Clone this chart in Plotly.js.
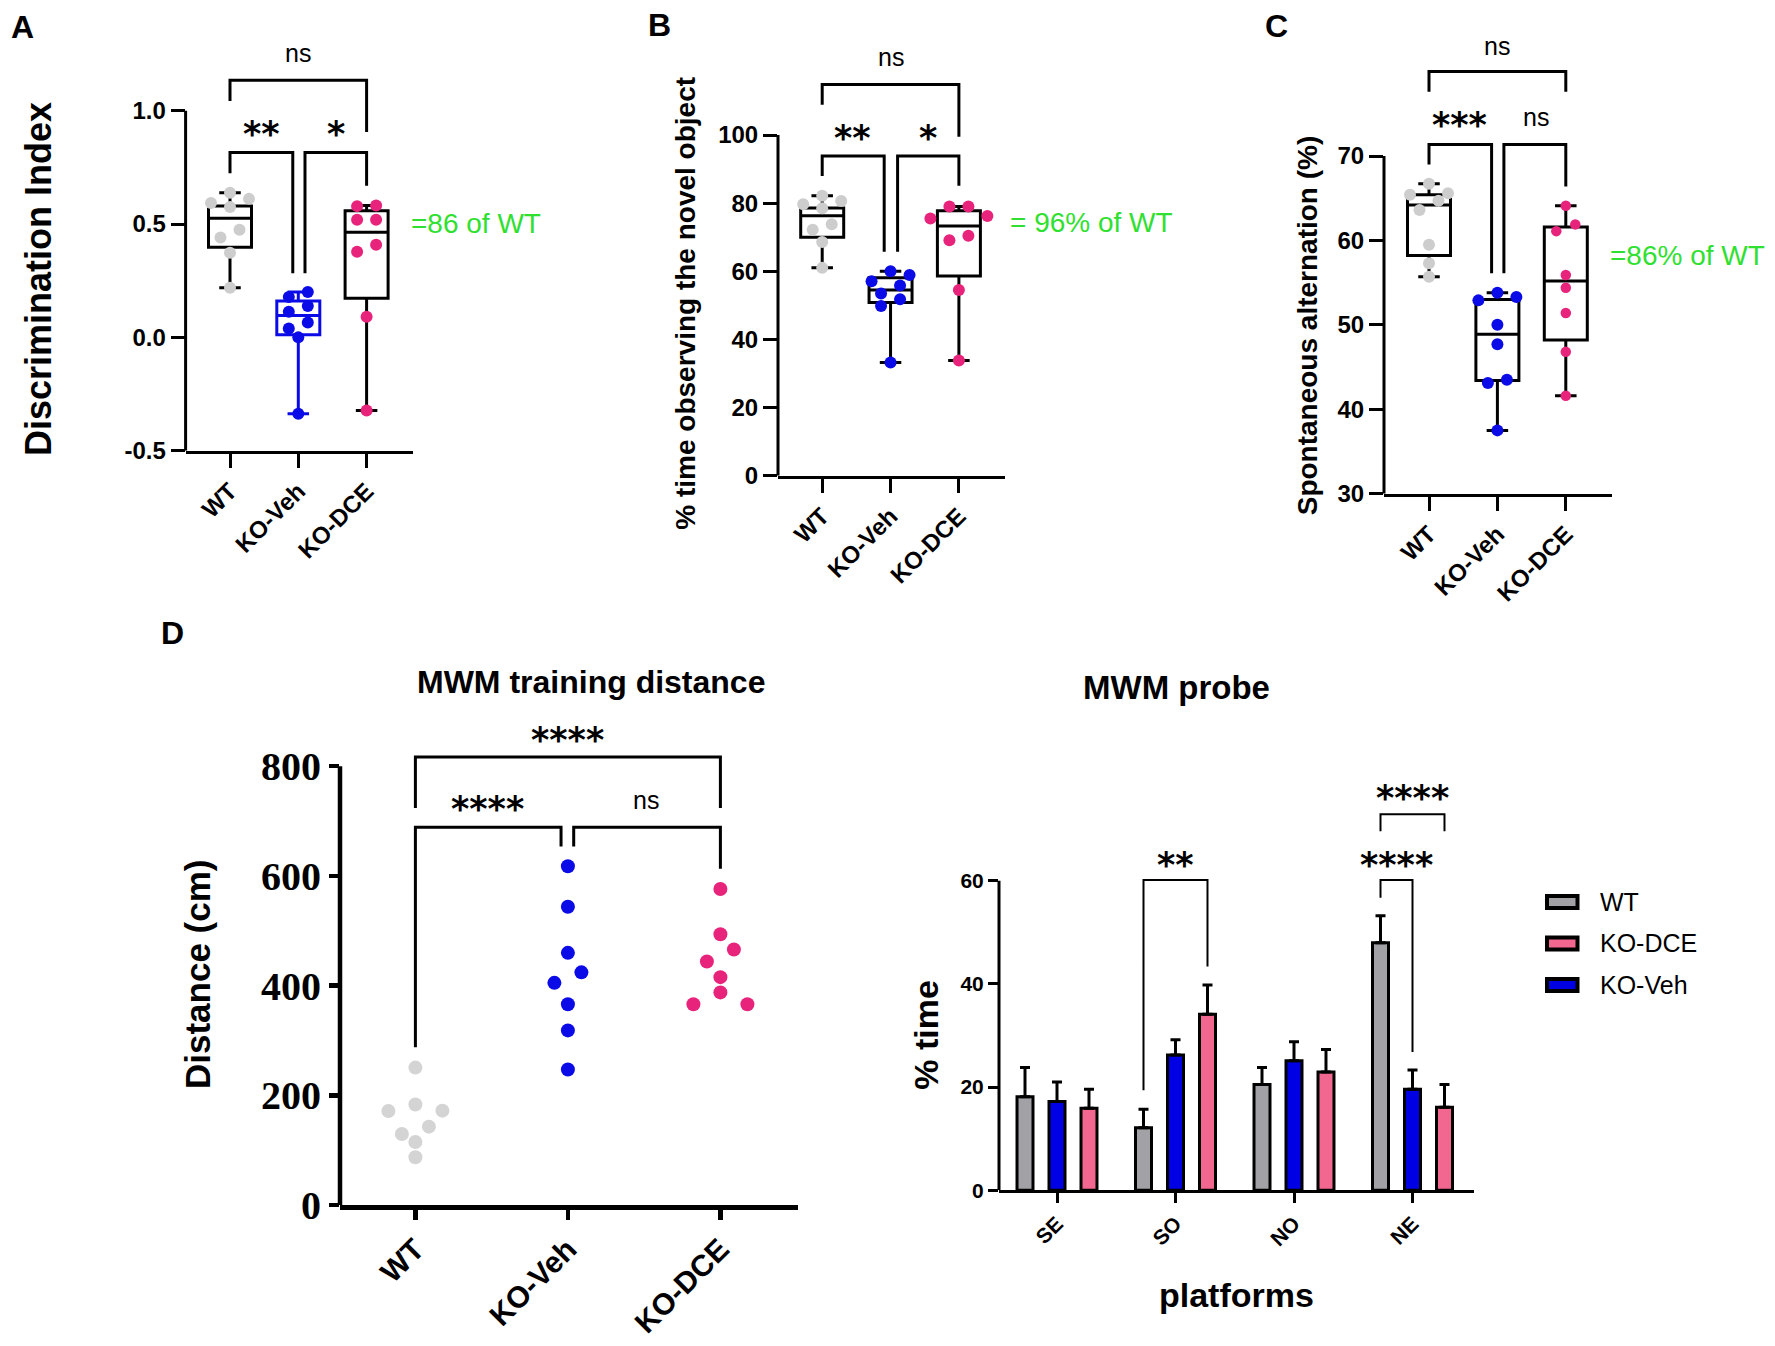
<!DOCTYPE html>
<html><head><meta charset="utf-8">
<script src="https://cdn.plot.ly/plotly-3.0.1.min.js"></script>
<style>html,body{margin:0;padding:0;background:#fff}</style>
</head><body>
<div id="chart" style="width:1775px;height:1346px"></div>
<script>
// ---------------- data ----------------
const groups = ['WT', 'KO-Veh', 'KO-DCE'];

// A: discrimination index
const discWT    = [0.638, 0.611, 0.593, 0.575, 0.475, 0.441, 0.373, 0.219];
const discKOVeh = [0.200, 0.178, 0.138, 0.113, 0.066, 0.039, 0.000, -0.337];
const discKODCE = [0.582, 0.579, 0.519, 0.519, 0.409, 0.378, 0.091, -0.323];
const discQ1  = [0.398, 0.011, 0.173];
const discMed = [0.526, 0.097, 0.464];
const discQ3  = [0.580, 0.160, 0.559];
const discTicks = [-0.5, 0, 0.5, 1.0];
const discTickText = ['-0.5', '0.0', '0.5', '1.0'];

// B: % time observing the novel object
const novelWT    = [82.2, 80.6, 79.7, 78.5, 73.8, 72.2, 68.6, 61.0];
const novelKOVeh = [60.0, 58.9, 57.1, 55.8, 53.5, 51.8, 49.8, 33.2];
const novelKODCE = [79.0, 79.0, 76.2, 75.5, 70.4, 69.1, 54.5, 33.8];
const novelQ1  = [70.0, 50.8, 58.6];
const novelMed = [76.3, 54.5, 73.3];
const novelQ3  = [78.6, 58.1, 77.8];
const novelTicks = [0, 20, 40, 60, 80, 100];

// C: spontaneous alternation (%)
const altWT    = [66.7, 65.6, 65.4, 64.7, 63.6, 59.5, 57.3, 55.7];
const altKOVeh = [53.8, 53.3, 52.9, 50.0, 47.7, 43.5, 43.1, 37.5];
const altKODCE = [64.1, 61.9, 61.1, 55.9, 54.4, 51.4, 46.8, 41.6];
const altQ1  = [58.2, 43.4, 48.2];
const altMed = [64.2, 48.9, 55.2];
const altQ3  = [65.4, 53.0, 61.6];
const altTicks = [30, 40, 50, 60, 70];

// D left: MWM training distance (cm)
const distWT    = [250.6, 183.4, 172.2, 171.6, 143.0, 129.7, 115.1, 87.2];
const distKOVeh = [617.7, 543.8, 459.8, 424.2, 405.1, 366.0, 318.4, 247.3];
const distKODCE = [576.2, 493.7, 465.8, 444.1, 415.5, 387.7, 366.0, 366.0];
const distTicks = [0, 200, 400, 600, 800];

// D right: MWM probe (% time)
const platforms = ['SE', 'SO', 'NO', 'NE'];
const probeWT       = [18.1, 12.1, 20.5, 48.0];
const probeWTErr    = [5.7, 3.6, 3.3, 5.2];
const probeKOVeh    = [17.2, 26.2, 25.1, 19.6];
const probeKOVehErr = [3.8, 3.0, 3.7, 3.7];
const probeKODCE    = [15.9, 34.1, 22.9, 16.1];
const probeKODCEErr = [3.7, 5.7, 4.4, 4.4];
const probeTicks = [0, 20, 40, 60];

// ---------------- styles ----------------
const W = 1775, H = 1346;
const cGray = '#cdcdcd', cBlue = '#0b0be8', cPink = '#e8237b', cGreen = '#30e030';
const barGray = '#a2a2a6', barBlue = '#0000e4', barPink = '#f2678f';
const SANS = 'Liberation Sans, Arial, sans-serif';
const SERIF = 'Liberation Serif, Times New Roman, serif';
const STAR = 'DejaVu Sans, sans-serif';

// panel geometry in pixels
const G = {
  A:  {id: '',  left: 185.6, right: 413,    c0: 230,   cs: 68.3,  v0: -0.5, p0: 450.7,  v1: 1.0, p1: 110.7, top: 28},
  B:  {id: '2', left: 778,   right: 1005,   c0: 822.2, cs: 68.35, v0: 0,    p0: 475.7,  v1: 100, p1: 135,   top: 28},
  C:  {id: '3', left: 1384,  right: 1612.3, c0: 1429,  cs: 68.4,  v0: 30,   p0: 493.7,  v1: 70,  p1: 156,   top: 28},
  DL: {id: '4', left: 340,   right: 798.3,  c0: 415.4, cs: 152.5, v0: 0,    p0: 1205.1, v1: 800, p1: 766.2, top: 700},
  DR: {id: '5', left: 999,   right: 1473.6, c0: 1057,  cs: 118.5, v0: 0,    p0: 1190.2, v1: 60,  p1: 880.8, top: 770}
};
Object.values(G).forEach(g => {
  g.ppu = (g.p0 - g.p1) / (g.v1 - g.v0);
  g.vtop = g.v1 + (g.p1 - g.top) / g.ppu;
  g.xr = [(g.left - g.c0) / g.cs, (g.right - g.c0) / g.cs];
  g.xd = [g.left / W, g.right / W];
  g.yd = [1 - g.p0 / H, 1 - g.top / H];
  g.xa = 'x' + g.id; g.ya = 'y' + g.id;
});

const traces = [], shapes = [], annotations = [], layout = {};

// beeswarm-like row layout (deterministic)
function swarm(vals, ppu, stepPx, rowPx, catStep) {
  const idx = vals.map((v, i) => i).sort((a, b) => vals[b] - vals[a]);
  const off = new Array(vals.length).fill(0);
  let i = 0;
  while (i < idx.length) {
    const row = [idx[i]]; let j = i + 1;
    while (j < idx.length && (vals[idx[i]] - vals[idx[j]]) * ppu < rowPx) { row.push(idx[j]); j++; }
    const k = row.length, seq = [];
    if (k % 2) { seq.push(0); for (let m = 1; seq.length < k; m++) { seq.push(m); if (seq.length < k) seq.push(-m); } }
    else { for (let m = 0; seq.length < k; m++) { seq.push(m + 0.5); seq.push(-(m + 0.5)); } }
    row.forEach((r, n) => off[r] = seq[n] * stepPx / catStep);
    i = j;
  }
  return off;
}

function axisPair(g, o) {
  layout['xaxis' + g.id] = {
    domain: g.xd, range: g.xr, anchor: g.ya, fixedrange: true,
    tickvals: o.xvals, ticktext: o.xtext, tickangle: -45,
    ticks: 'outside', ticklen: o.tl, tickwidth: o.tw, tickcolor: '#000',
    showline: true, linewidth: o.lw, linecolor: '#000',
    showgrid: false, zeroline: false, tickfont: o.xfont
  };
  layout['yaxis' + g.id] = {
    domain: g.yd, range: [g.v0, g.vtop], anchor: g.xa, fixedrange: true,
    tickvals: o.yvals, ticktext: o.ytext,
    ticks: 'outside', ticklen: o.tl, tickwidth: o.tw, tickcolor: '#000',
    showline: false, showgrid: false, zeroline: false, tickfont: o.yfont
  };
  shapes.push({type: 'line', xref: g.xa + ' domain', yref: g.ya, x0: 0, x1: 0,
    y0: g.v0, y1: g.v1, line: {color: '#000', width: o.lw}});
}

function boxPanel(g, series, q1, med, q3, boxColors, ptColors, msizes) {
  series.forEach((vals, i) => {
    traces.push({type: 'box', xaxis: g.xa, yaxis: g.ya, x: [i],
      q1: [q1[i]], median: [med[i]], q3: [q3[i]],
      lowerfence: [Math.min(...vals)], upperfence: [Math.max(...vals)],
      width: 43 / g.cs, whiskerwidth: 0.5, boxpoints: false,
      line: {color: boxColors[i], width: 3}, fillcolor: 'rgba(0,0,0,0)',
      hoverinfo: 'skip', showlegend: false});
    const off = swarm(vals, g.ppu, 19, 12, g.cs);
    traces.push({type: 'scatter', mode: 'markers', xaxis: g.xa, yaxis: g.ya,
      x: vals.map((v, k) => i + off[k]), y: vals, cliponaxis: false,
      marker: {size: msizes[i], color: ptColors[i]}, hoverinfo: 'skip', showlegend: false});
  });
}

function bracket(g, xa, xb, yTop, yA, yB, w) {
  shapes.push({type: 'path', xref: g.xa, yref: g.ya,
    path: `M${xa},${yA} L${xa},${yTop} L${xb},${yTop} L${xb},${yB}`,
    line: {color: '#000', width: w}});
}
function sig(g, text, x, y) {
  const star = text.indexOf('*') >= 0;
  annotations.push({xref: g.xa, yref: g.ya, x: x, y: y, text: text, showarrow: false,
    xanchor: 'center', yanchor: 'middle', yshift: star ? -4 : 2,
    font: star ? {family: STAR, size: 35, weight: 700, color: '#000'} : {family: SANS, size: 25, color: '#000'}});
}
function label(text, x, y, font, opts) {
  annotations.push(Object.assign({xref: 'paper', yref: 'paper', x: x / W, y: 1 - y / H, text: text,
    showarrow: false, xanchor: 'center', yanchor: 'middle', font: font}, opts || {}));
}

const tickBold24 = {family: SANS, size: 24, weight: 700, color: '#000'};
const catIdx = groups.map((c, i) => i);

// ---------- Panel A ----------
axisPair(G.A, {xvals: catIdx, xtext: groups, yvals: discTicks, ytext: discTickText,
  tl: 14, tw: 3, lw: 3, xfont: tickBold24, yfont: tickBold24});
boxPanel(G.A, [discWT, discKOVeh, discKODCE], discQ1, discMed, discQ3,
  ['#000', cBlue, '#000'], [cGray, cBlue, cPink], [12, 12, 12]);
bracket(G.A, 0, 2, 1.134, 1.043, 0.906, 3);
bracket(G.A, 0, 0.919, 0.816, 0.724, 0.283, 3);
bracket(G.A, 1.098, 2, 0.816, 0.283, 0.669, 3);
sig(G.A, 'ns', 1, 1.244); sig(G.A, '**', 0.46, 0.913); sig(G.A, '*', 1.55, 0.913);

// ---------- Panel B ----------
axisPair(G.B, {xvals: catIdx, xtext: groups, yvals: novelTicks, ytext: novelTicks.map(String),
  tl: 14, tw: 3, lw: 3, xfont: tickBold24, yfont: tickBold24});
boxPanel(G.B, [novelWT, novelKOVeh, novelKODCE], novelQ1, novelMed, novelQ3,
  ['#000', '#000', '#000'], [cGray, cBlue, cPink], [12, 12, 12]);
bracket(G.B, 0, 2, 114.8, 108.9, 99.5, 3);
bracket(G.B, 0, 0.907, 93.8, 88.0, 65.7, 3);
bracket(G.B, 1.103, 2, 93.8, 65.7, 85.1, 3);
sig(G.B, 'ns', 1, 122.3); sig(G.B, '**', 0.449, 100.3); sig(G.B, '*', 1.552, 100.3);

// ---------- Panel C ----------
axisPair(G.C, {xvals: catIdx, xtext: groups, yvals: altTicks, ytext: altTicks.map(String),
  tl: 14, tw: 3, lw: 3, xfont: tickBold24, yfont: tickBold24});
boxPanel(G.C, [altWT, altKOVeh, altKODCE], altQ1, altMed, altQ3,
  ['#000', '#000', '#000'], [cGray, cBlue, cPink], [12, 12, 10.5]);
bracket(G.C, 0, 2, 80.0, 77.6, 77.6, 3);
bracket(G.C, 0, 0.915, 71.35, 69.0, 56.1, 3);
bracket(G.C, 1.095, 2, 71.35, 56.1, 66.4, 3);
sig(G.C, 'ns', 1, 82.8); sig(G.C, '***', 0.453, 74.1); sig(G.C, 'ns', 1.56, 74.35);

// ---------- Panel D left ----------
axisPair(G.DL, {xvals: catIdx, xtext: groups, yvals: distTicks, ytext: distTicks.map(String),
  tl: 10, tw: 4.5, lw: 4.5,
  xfont: {family: SANS, size: 30, weight: 700, color: '#000'},
  yfont: {family: SERIF, size: 40, weight: 700, color: '#000'}});
[distWT, distKOVeh, distKODCE].forEach((vals, i) => {
  const off = swarm(vals, G.DL.ppu, 27, 14, G.DL.cs);
  traces.push({type: 'scatter', mode: 'markers', xaxis: G.DL.xa, yaxis: G.DL.ya,
    x: vals.map((v, k) => i + off[k]), y: vals, cliponaxis: false,
    marker: {size: 14, color: ['#d4d4d4', cBlue, cPink][i]}, hoverinfo: 'skip', showlegend: false});
});
bracket(G.DL, 0, 2, 816.8, 724, 724, 3);
bracket(G.DL, 0, 0.955, 688.5, 287.8, 653.8, 3);
bracket(G.DL, 1.038, 2, 688.5, 653.8, 613.0, 3);
sig(G.DL, '****', 0.998, 855.8); sig(G.DL, '****', 0.472, 728.4); sig(G.DL, 'ns', 1.515, 734.4);

// ---------- Panel D right ----------
const BARGAP = 0.19, slot = (1 - BARGAP) / 3;
axisPair(G.DR, {xvals: platforms.map((p, i) => i), xtext: platforms, yvals: probeTicks, ytext: probeTicks.map(String),
  tl: 10, tw: 3, lw: 3,
  xfont: {family: SANS, size: 21, weight: 700, color: '#000'},
  yfont: {family: SANS, size: 21, weight: 700, color: '#000'}});
const probeSeries = [
  {name: 'WT', y: probeWT, err: probeWTErr, color: barGray},
  {name: 'KO-Veh', y: probeKOVeh, err: probeKOVehErr, color: barBlue},
  {name: 'KO-DCE', y: probeKODCE, err: probeKODCEErr, color: barPink}
];
probeSeries.forEach(s => {
  traces.push({type: 'bar', name: s.name, xaxis: G.DR.xa, yaxis: G.DR.ya,
    x: platforms.map((p, i) => i), y: s.y,
    marker: {color: s.color, line: {color: '#000', width: 3}},
    error_y: {type: 'data', symmetric: false, array: s.err, arrayminus: s.err.map(() => 0),
      color: '#000', thickness: 3, width: 5},
    hoverinfo: 'skip', showlegend: false});
});
bracket(G.DR, 1 - slot, 1 + slot, 60.15, 19.4, 43.4, 2);
bracket(G.DR, 3 - slot, 3, 60.15, 56.7, 26.8, 2);
bracket(G.DR, 3 - slot, 3 + slot, 72.9, 69.6, 69.6, 2);
sig(G.DR, '**', 1.0, 63.9); sig(G.DR, '****', 2.866, 63.9); sig(G.DR, '****', 2.996, 76.75);

// custom legend (WT, KO-DCE, KO-Veh)
[0, 2, 1].forEach((si, n) => {
  const s = probeSeries[si], cy = 902 + n * 41.5;
  shapes.push({type: 'rect', xref: 'paper', yref: 'paper',
    x0: 1547 / W, x1: 1577.5 / W, y0: 1 - (cy - 6) / H, y1: 1 - (cy + 6) / H,
    fillcolor: s.color, line: {color: '#000', width: 4}});
  label(s.name, 1598, cy, {family: SANS, size: 25, color: '#000'}, {xanchor: 'left'});
});

// ---------- text labels ----------
const letterFont = {family: SANS, size: 32, weight: 700, color: '#000'};
label('A', 22, 27, letterFont); label('B', 659, 25, letterFont);
label('C', 1276, 26, letterFont); label('D', 172, 633.3, letterFont);

label('Discrimination Index', 38.5, 279.5, {family: SANS, size: 36, weight: 700, color: '#000'}, {textangle: -90});
label('% time observing the novel object', 685.2, 303.5, {family: SANS, size: 28, weight: 700, color: '#000'}, {textangle: -90});
label('Spontaneous alternation (%)', 1307.4, 324.9, {family: SANS, size: 28, weight: 700, color: '#000'}, {textangle: -90});

const greenFont = {family: SANS, size: 28, color: cGreen};
label('=86 of WT', 409, 223.2, greenFont, {xanchor: 'left'});
label('= 96% of WT', 1008, 223, greenFont, {xanchor: 'left'});
label('=86% of WT', 1608.3, 255.6, greenFont, {xanchor: 'left'});

label('MWM training distance', 591.3, 681.8, {family: SANS, size: 32, weight: 700, color: '#000'});
label('Distance (cm)', 196.8, 974.2, {family: SANS, size: 35, weight: 700, color: '#000'}, {textangle: -90});
label('MWM probe', 1176.2, 687.3, {family: SANS, size: 33, weight: 700, color: '#000'});
label('% time', 925.7, 1035, {family: SANS, size: 34, weight: 700, color: '#000'}, {textangle: -90});
label('platforms', 1236.7, 1295, {family: SANS, size: 34, weight: 700, color: '#000'});

Object.assign(layout, {
  width: W, height: H, margin: {l: 0, r: 0, t: 0, b: 0, pad: 0},
  paper_bgcolor: '#fff', plot_bgcolor: 'rgba(0,0,0,0)',
  showlegend: false, barmode: 'group', bargap: BARGAP, bargroupgap: 0.5,
  font: {family: SANS, color: '#000'},
  shapes: shapes, annotations: annotations
});

Plotly.newPlot('chart', traces, layout, {displayModeBar: false, staticPlot: true});
</script>
</body></html>
